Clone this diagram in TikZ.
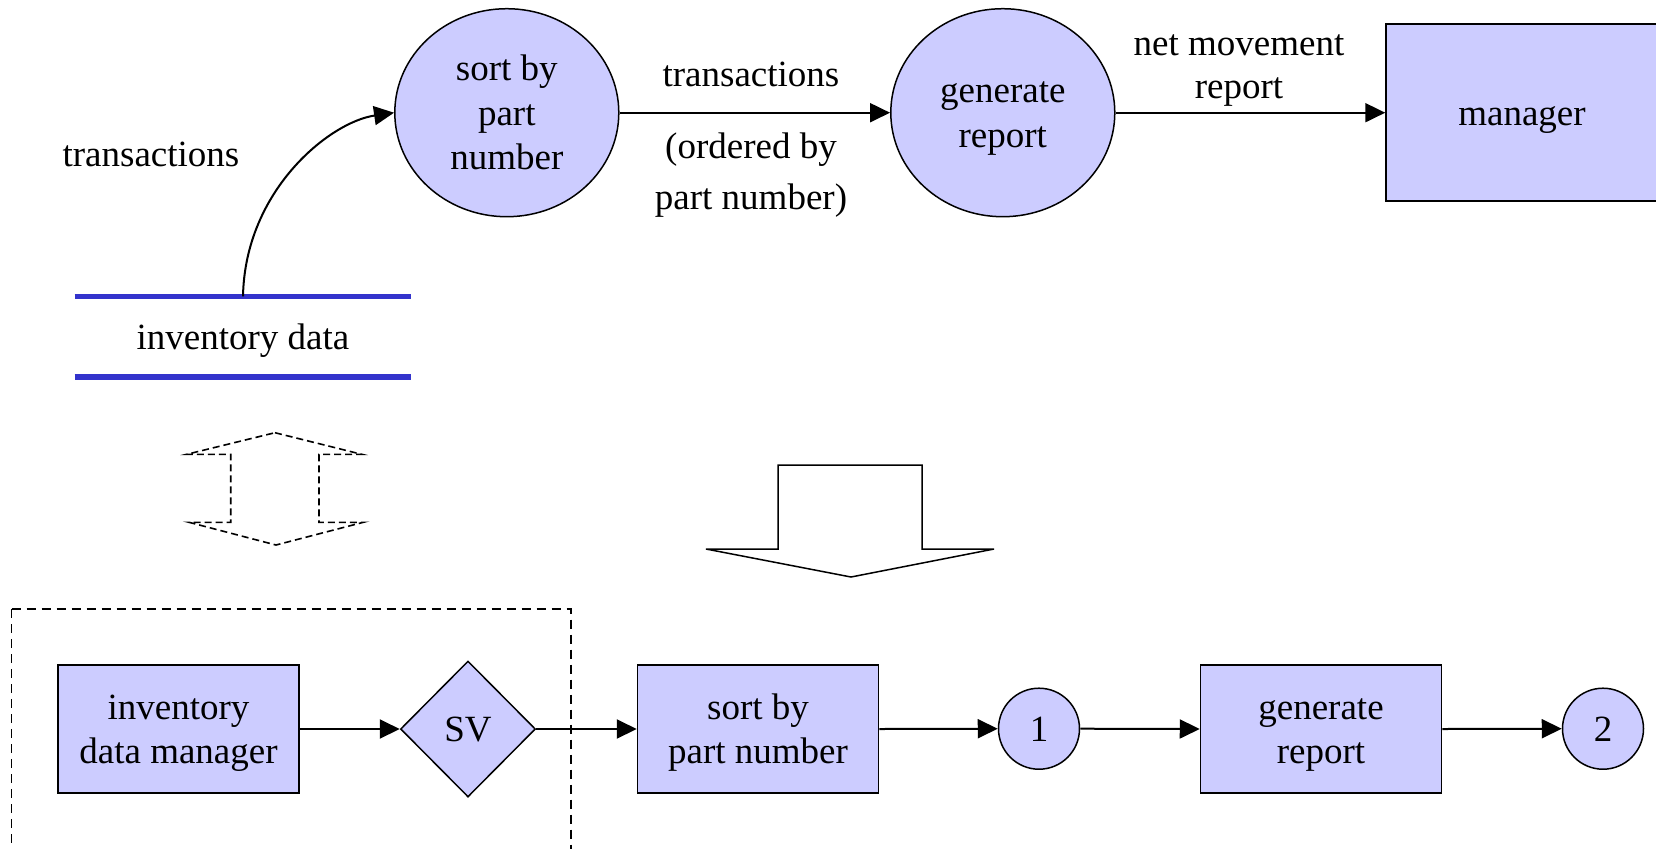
\documentclass[tikz,border=0pt]{standalone}
\usepackage{fontspec}
\setmainfont{Liberation Serif}
\usetikzlibrary{shapes.geometric,arrows.meta}
\definecolor{procfill}{HTML}{CCCCFF}
\definecolor{storeblue}{HTML}{3333CC}
% line box of the font (ascent + descent), so that node text is centred on it
\newcommand\linestrut{\rule[-0.216em]{0pt}{1.107em}}
% centred stack of lines, padded above the first line in the same way
\newcommand\lines[1]{\begin{tabular}{@{}c@{}}\rule{0pt}{19.2pt}#1\end{tabular}}

\begin{document}
\begin{tikzpicture}[x=0.5pt,y=-0.5pt,
  font=\fontsize{18.5}{22.25}\selectfont,
  proc/.style={ellipse,draw,line width=0.75pt,fill=procfill,
    minimum width=112pt,minimum height=104pt,inner sep=0pt},
  extent/.style={rectangle,draw,line width=0.75pt,fill=procfill,
    minimum width=136pt,minimum height=88.5pt,inner sep=0pt},
  box/.style={rectangle,draw,line width=0.75pt,fill=procfill,
    minimum width=120.5pt,minimum height=64pt,inner sep=0pt},
  gate/.style={diamond,draw,line width=0.75pt,fill=procfill,
    minimum width=67.5pt,minimum height=68pt,inner sep=0pt},
  conn/.style={circle,draw,line width=0.75pt,fill=procfill,
    minimum size=40.5pt,inner sep=0pt},
  store/.style={rectangle,minimum width=168pt,minimum height=40pt,inner sep=0pt},
  storeline/.style={draw=storeblue,line width=2.65pt},
  flow/.style={line width=1pt,-{Triangle[length=10pt,width=9.5pt]}},
  lbl/.style={inner sep=0pt},
  dashedge/.style={line width=0.8pt,dash pattern=on 3.5pt off 2pt},
]
\useasboundingbox (0,0) rectangle (1656,848);

% ---- data flow diagram ----
\node[proc] (sort) at (506.8,112.7) {\lines{sort by\\part\\number}};
\node[proc] (gen) at (1002.8,112.7) {\lines{generate\\report}};
\node[extent] (mgr) at (1522,112.7) {\linestrut manager};
\node[store] (inv) at (243,336.7) {\linestrut inventory data};
\draw[storeline] (inv.north west) -- (inv.north east);
\draw[storeline] (inv.south west) -- (inv.south east);

\draw[flow] (inv.north) .. controls (245,190) and (330,122) .. (sort.west);
\draw[flow] (sort.east) -- (gen.west);
\draw[flow] (gen.east) -- (mgr.west);

\node[lbl,anchor=base] (lt) at (151,166.5) {transactions};
\node[lbl,anchor=base] (mt) at (751,86) {transactions};
\node[lbl,anchor=base] (mo1) at (751,158) {(ordered by};
\node[lbl,anchor=base] (mo2) at (751,209.5) {part number)};
\node[lbl,anchor=base] (nm1) at (1239,55) {net movement};
\node[lbl,anchor=base] (nm2) at (1239,98) {report};

% ---- dashed two-way arrow ----
\draw[dashedge] (275,432.7) -- (361.7,454.3) -- (319,454.3) -- (319,522.3)
  -- (363.3,522.3) -- (276,545) -- (189,522.3) -- (230.7,522.3)
  -- (230.7,454.3) -- (186.7,454.3) -- cycle;

% ---- block down arrow ----
\draw[line width=0.75pt,fill=white] (778,465) -- (922,465) -- (922,549)
  -- (994,549) -- (851,577) -- (706,549) -- (778,549) -- cycle;

% ---- design structure ----
\draw[dashedge,dash pattern=on 4.5pt off 3pt] (11.5,609) -- (571,609) -- (571,880)
  (11.5,609) -- (11.5,880);

\node[box] (idm) at (178.5,729) {\lines{inventory\\data manager}};
\node[gate] (sv) at (468,729) {\linestrut SV};
\node[box] (sortb) at (758,729) {\lines{sort by\\part number}};
\node[conn] (c1) at (1039,728.7) {\linestrut 1};
\node[box] (genb) at (1321,729) {\lines{generate\\report}};
\node[conn] (c2) at (1603,728.7) {\linestrut 2};

\draw[flow] (idm.east) -- (sv.west);
\draw[flow] (sv.east) -- (sortb.west);
\draw[flow] (sortb.east) -- (c1.west);
\draw[flow] (c1.east) -- (genb.west);
\draw[flow] (genb.east) -- (c2.west);
\end{tikzpicture}
\end{document}
